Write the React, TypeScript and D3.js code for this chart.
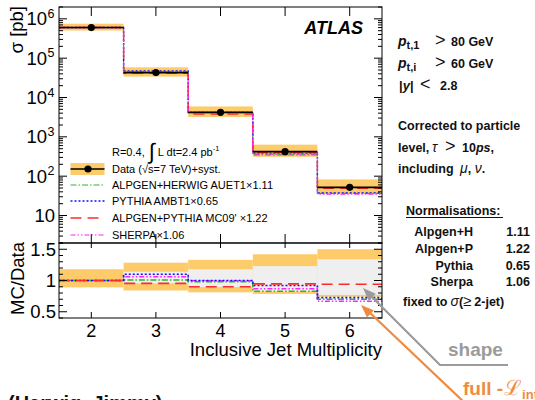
import React from 'react';
import * as d3 from 'd3';

// ---------- data ----------
const categories = [2, 3, 4, 5, 6];
const dataXsec = [6.0e5, 4.3e4, 4.2e3, 4.2e2, 52];
const fullUp = [1.18, 1.285, 1.33, 1.42, 1.5];
const fullDown = [0.89, 0.84, 0.81, 0.785, 0.74];
const shapeUp = [1.0, 1.14, 1.18, 1.23, 1.34];
const shapeDown = [1.0, 0.955, 0.895, 0.82, 0.77];
const ratioAlpgenHerwig = [1.0, 1.01, 0.98, 0.83, 0.7];
const ratioPythia = [1.0, 1.1, 1.0, 0.92, 0.725];
const ratioAlpgenPythia = [1.0, 0.955, 0.9, 0.945, 0.94];
const ratioSherpa = [1.0, 1.06, 0.995, 0.87, 0.67];
const topTickExps = [1, 2, 3, 4, 5, 6];
const ratioTicks = [0.5, 1, 1.5];

const FONT = "'Liberation Sans', Arial, Helvetica, sans-serif";
const ORANGE_BAND = '#fecb6b';
const SHAPE_BAND = '#efefef';

const mcSeries = [
  { name: 'ALPGEN+HERWIG AUET1\u00d71.11', ratio: ratioAlpgenHerwig, color: '#2db52d', dash: '6,2,1.5,2', width: 1.2 },
  { name: 'PYTHIA AMBT1\u00d70.65', ratio: ratioPythia, color: '#1010ff', dash: '2,2', width: 1.4 },
  { name: "ALPGEN+PYTHIA MC09' \u00d71.22", ratio: ratioAlpgenPythia, color: '#ff2a2a', dash: '11,6', width: 1.4 },
  { name: 'SHERPA\u00d71.06', ratio: ratioSherpa, color: '#ff22ff', dash: '5,2,1.5,2,1.5,2', width: 1.2 },
];

export default function App() {
  const W = 535, H = 400;
  const L = 59, R = 382;
  const topY0 = 7, topY1 = 243, rY0 = 243, rY1 = 318;
  const x = d3.scaleLinear().domain([1.5, 6.5]).range([L, R]);
  const yT = d3.scaleLog().domain([2, 2e6]).range([topY1, topY0]);
  const yR = d3.scaleLinear().domain([0.4, 1.6]).range([rY1, rY0]);

  const stepPts = (vals: number[], ys: (v: number) => number) => {
    const pts: [number, number][] = [];
    categories.forEach((c, i) => {
      pts.push([x(c - 0.5), ys(vals[i])]);
      pts.push([x(c + 0.5), ys(vals[i])]);
    });
    return pts;
  };
  const line = d3.line();

  const minorTop: number[] = [];
  for (let e = 0; e <= 6; e++) {
    for (let m = 2; m <= 9; m++) {
      const v = m * Math.pow(10, e);
      if (v >= 2 && v <= 2e6) minorTop.push(v);
    }
  }
  const minorR = d3.range(0.4, 1.6001, 0.1).filter(v => !ratioTicks.some(t => Math.abs(t - v) < 1e-6));

  const legendY = [169, 185, 201, 218, 235];

  const arrowHead = (tx: number, ty: number, fx: number, fy: number, len: number, half: number) => {
    const dx = fx - tx, dy = fy - ty;
    const d = Math.hypot(dx, dy);
    const ux = dx / d, uy = dy / d;
    const bx = tx + ux * len, by = ty + uy * len;
    return `${tx},${ty} ${bx - uy * half},${by + ux * half} ${bx + uy * half},${by - ux * half}`;
  };

  return (
    <svg width={W} height={H} style={{ position: 'absolute', left: 0, top: 0, background: '#fff' }} fontFamily={FONT}>
      <rect x={0} y={0} width={W} height={H} fill="#fff" />
      <defs>
        <clipPath id="clipTop"><rect x={L} y={topY0} width={R - L} height={topY1 - topY0} /></clipPath>
        <clipPath id="clipR"><rect x={L} y={rY0} width={R - L} height={rY1 - rY0} /></clipPath>
      </defs>

      {/* ===== top panel ===== */}
      <g clipPath="url(#clipTop)">
        {categories.map((c, i) => (
          <rect key={'b' + c} x={x(c - 0.5)} width={x(c + 0.5) - x(c - 0.5)}
            y={yT(dataXsec[i] * fullUp[i]) - 1} height={yT(dataXsec[i] * fullDown[i]) - yT(dataXsec[i] * fullUp[i]) + 2}
            fill={ORANGE_BAND} />
        ))}
        {mcSeries.map(s => (
          <path key={s.name} d={line(stepPts(dataXsec.map((d, i) => d * s.ratio[i]), yT)) || ''}
            fill="none" stroke={s.color} strokeWidth={s.width} strokeDasharray={s.dash} />
        ))}
        {categories.map((c, i) => (
          <g key={'d' + c}>
            <line x1={x(c - 0.5)} x2={x(c + 0.5)} y1={yT(dataXsec[i])} y2={yT(dataXsec[i])} stroke="#000" strokeWidth={1.6} />
            <circle cx={x(c)} cy={yT(dataXsec[i])} r={3.6} fill="#000" />
          </g>
        ))}
      </g>
      <rect x={L} y={topY0} width={R - L} height={topY1 - topY0} fill="none" stroke="#000" strokeWidth={1} />
      {categories.map(c => (
        <g key={'xt' + c} stroke="#000">
          <line x1={x(c)} x2={x(c)} y1={topY0} y2={topY0 + 9} />
          <line x1={x(c)} x2={x(c)} y1={topY1} y2={topY1 - 9} />
        </g>
      ))}
      {topTickExps.map(e => (
        <g key={'yt' + e} stroke="#000">
          <line x1={L} x2={L + 8} y1={yT(Math.pow(10, e))} y2={yT(Math.pow(10, e))} />
          <line x1={R} x2={R - 8} y1={yT(Math.pow(10, e))} y2={yT(Math.pow(10, e))} />
        </g>
      ))}
      {minorTop.map(v => (
        <g key={'ym' + v} stroke="#000">
          <line x1={L} x2={L + 4} y1={yT(v)} y2={yT(v)} />
          <line x1={R} x2={R - 4} y1={yT(v)} y2={yT(v)} />
        </g>
      ))}
      {topTickExps.map(e => (
        <text key={'yl' + e} x={e === 1 ? 55 : 47} y={yT(Math.pow(10, e)) + 6.5} fontSize={18.5} textAnchor="end">
          10
        </text>
      ))}
      {topTickExps.filter(e => e > 1).map(e => (
        <text key={'ye' + e} x={47.5} y={yT(Math.pow(10, e)) - 1} fontSize={12.5}>{e}</text>
      ))}
      <text transform="translate(23,6) rotate(-90)" fontSize={18.5} textAnchor="end">{'\u03c3 [pb]'}</text>

      <text x={363} y={34} fontSize={18} fontWeight="bold" fontStyle="italic" textAnchor="end">ATLAS</text>

      {/* legend */}
      <text x={112} y={156} fontSize={11}>
        R=0.4,
        <tspan fontSize={22} dx={4} dy={3}>{'\u222b'}</tspan>
        <tspan fontSize={11} dx={3} dy={-3}>L dt=2.4 pb</tspan>
        <tspan fontSize={7.5} dy={-5}>-1</tspan>
      </text>
      <rect x={70.5} y={legendY[0] - 6} width={34} height={12} fill={ORANGE_BAND} />
      <line x1={70.5} x2={104.5} y1={legendY[0]} y2={legendY[0]} stroke="#000" strokeWidth={1.6} />
      <circle cx={88} cy={legendY[0]} r={3.6} fill="#000" />
      <text x={112} y={legendY[0] + 4} fontSize={11}>{'Data (\u221as=7 TeV)+syst.'}</text>
      {mcSeries.map((s, i) => (
        <g key={'lg' + i}>
          <line x1={70.5} x2={104.5} y1={legendY[i + 1]} y2={legendY[i + 1]} stroke={s.color} strokeWidth={s.width} strokeDasharray={s.dash} />
          <text x={112} y={legendY[i + 1] + 4} fontSize={11}>{s.name}</text>
        </g>
      ))}

      {/* ===== ratio panel ===== */}
      <g clipPath="url(#clipR)">
        {categories.map((c, i) => (
          <rect key={'rf' + c} x={x(c - 0.5)} width={x(c + 0.5) - x(c - 0.5)}
            y={yR(fullUp[i])} height={yR(fullDown[i]) - yR(fullUp[i])} fill={ORANGE_BAND} />
        ))}
        {categories.map((c, i) => (
          <rect key={'rs' + c} x={x(c - 0.5)} width={x(c + 0.5) - x(c - 0.5)}
            y={yR(shapeUp[i])} height={yR(shapeDown[i]) - yR(shapeUp[i])} fill={SHAPE_BAND} />
        ))}
        {[mcSeries[3], mcSeries[0], mcSeries[1], mcSeries[2]].map(s => (
          <path key={'r' + s.name} d={line(stepPts(s.ratio, yR)) || ''}
            fill="none" stroke={s.color} strokeWidth={s.width + 0.3} strokeDasharray={s.dash} />
        ))}
      </g>
      <rect x={L} y={rY0} width={R - L} height={rY1 - rY0} fill="none" stroke="#000" strokeWidth={1} />
      {categories.map(c => (
        <g key={'rxt' + c} stroke="#000">
          <line x1={x(c)} x2={x(c)} y1={rY0} y2={rY0 + 5} />
          <line x1={x(c)} x2={x(c)} y1={rY1} y2={rY1 - 6} />
        </g>
      ))}
      {ratioTicks.map(t => (
        <g key={'ryt' + t} stroke="#000">
          <line x1={L} x2={L + 8} y1={yR(t)} y2={yR(t)} />
          <line x1={R} x2={R - 8} y1={yR(t)} y2={yR(t)} />
        </g>
      ))}
      {minorR.map(t => (
        <g key={'rym' + t} stroke="#000">
          <line x1={L} x2={L + 4} y1={yR(t)} y2={yR(t)} />
          <line x1={R} x2={R - 4} y1={yR(t)} y2={yR(t)} />
        </g>
      ))}
      {ratioTicks.map(t => (
        <text key={'ryl' + t} x={56} y={yR(t) + 6.5} fontSize={18.5} textAnchor="end">{String(t)}</text>
      ))}
      <text transform="translate(24,242) rotate(-90)" fontSize={18.5} textAnchor="end">MC/Data</text>
      {categories.map(c => (
        <text key={'xl' + c} x={x(c)} y={337} fontSize={18} textAnchor="middle">{String(c)}</text>
      ))}
      <text x={R} y={356} fontSize={18.5} textAnchor="end">Inclusive Jet Multiplicity</text>

      {/* ===== right-hand text ===== */}
      <g fontWeight="bold" fontSize={12.5} fill="#111">
        <text x={398} y={46}>
          <tspan fontStyle="italic" fontSize={14}>p</tspan>
          <tspan fontSize={11} dy={3}>t,1</tspan>
          <tspan x={435} dy={-3} fontSize={18} fontWeight="normal">{'>'}</tspan>
          <tspan x={451}>80 GeV</tspan>
        </text>
        <text x={398} y={68}>
          <tspan fontStyle="italic" fontSize={14}>p</tspan>
          <tspan fontSize={11} dy={3}>t,i</tspan>
          <tspan x={435} dy={-3} fontSize={18} fontWeight="normal">{'>'}</tspan>
          <tspan x={451}>60 GeV</tspan>
        </text>
        <text x={399} y={90}>
          <tspan fontSize={13}>|</tspan>
          <tspan fontStyle="italic" fontSize={13}>y</tspan>
          <tspan fontSize={13}>|</tspan>
          <tspan x={420} fontSize={18} fontWeight="normal">{'<'}</tspan>
          <tspan x={440}>2.8</tspan>
        </text>
        <text x={398} y={130}>Corrected to particle</text>
        <text x={398} y={152}>
          level,
          <tspan x={432} fontStyle="italic" fontSize={14} fontWeight="normal">{'\u03c4'}</tspan>
          <tspan x={445} fontSize={18} fontWeight="normal">{'>'}</tspan>
          <tspan x={462}>10</tspan>
          <tspan fontStyle="italic">ps</tspan>
          <tspan>,</tspan>
        </text>
        <text x={398} y={173}>
          including
          <tspan x={460} fontStyle="italic" fontSize={14} fontWeight="normal">{'\u03bc'}</tspan>
          <tspan>, </tspan>
          <tspan fontStyle="italic" fontSize={14} fontWeight="normal">{'\u03bd'}</tspan>
          <tspan>.</tspan>
        </text>

        <text x={406} y={215}>Normalisations:</text>
        <line x1={406} x2={503} y1={217.5} y2={217.5} stroke="#111" strokeWidth={1.2} />
        {[['Alpgen+H', '1.11', 236], ['Alpgen+P', '1.22', 253], ['Pythia', '0.65', 270], ['Sherpa', '1.06', 286]].map(r => (
          <g key={String(r[0])}>
            <text x={473} y={Number(r[2])} textAnchor="end">{r[0]}</text>
            <text x={530} y={Number(r[2])} textAnchor="end">{r[1]}</text>
          </g>
        ))}
        <text x={403} y={306}>
          fixed to
          <tspan dx={3} fontStyle="italic" fontSize={14} fontWeight="normal">{'\u03c3'}</tspan>
          <tspan>(</tspan>
          <tspan fontWeight="normal" fontSize={15}>{'\u2265'}</tspan>
          <tspan dx={3}>2-jet)</tspan>
        </text>
      </g>

      {/* ===== annotations ===== */}
      <polyline points="369,294 440,365 508,365" fill="none" stroke="#9b9b9b" strokeWidth={2.2} />
      <polygon points={arrowHead(363, 288, 440, 365, 13, 5)} fill="#9b9b9b" />
      <text x={448} y={356} fontSize={19} fontWeight="bold" fill="#9b9b9b">shape</text>

      <line x1={367} y1={310} x2={466} y2={404} stroke="#f08a3e" strokeWidth={2.2} />
      <polygon points={arrowHead(361, 305, 466, 404, 13, 5)} fill="#f08a3e" />
      <text x={463} y={395} fontSize={19} fontWeight="bold" fill="#f08a3e">
        full -<tspan fontSize={21} fontWeight="normal" dx={1}>{'\u2112'}</tspan>
        <tspan fontSize={13} dy={4}>int</tspan>
      </text>

      <text x={8} y={410} fontSize={20} fontWeight="bold" fill="#111">(Herwig, Jimmy)</text>
    </svg>
  );
}
